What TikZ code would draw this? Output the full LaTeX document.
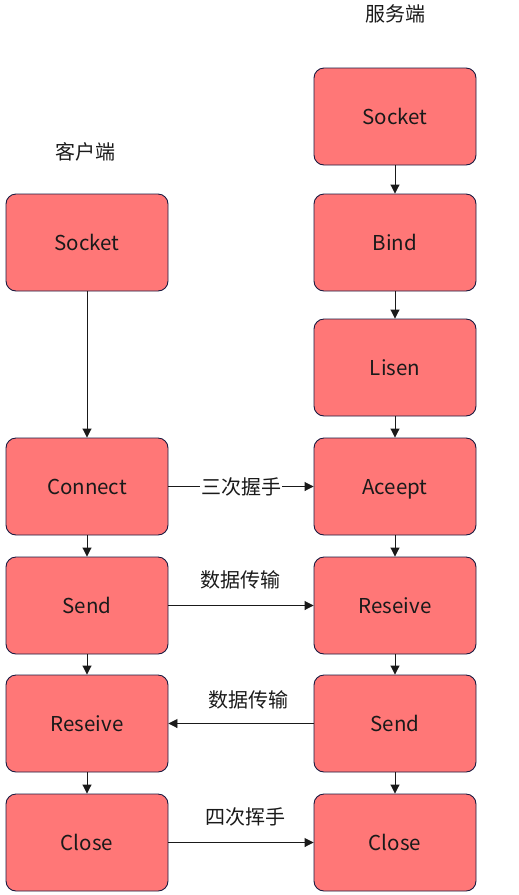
\documentclass[tikz,border=0pt]{standalone}
\usepackage{fontspec}
\setmainfont{Noto Sans CJK SC}
\usetikzlibrary{arrows.meta}
\definecolor{boxfill}{HTML}{FF7777}
\definecolor{boxline}{HTML}{1A1A40}
\definecolor{txt}{HTML}{1A1A1A}
\begin{document}
\begin{tikzpicture}[x=1pt,y=-1pt,
  sbox/.style={draw=boxline,fill=boxfill,rounded corners=10pt,line width=0.9pt,
    minimum width=162pt,minimum height=97pt,inner sep=0pt,text height=15pt,text depth=0pt,
    font=\fontsize{20.5pt}{24pt}\selectfont,text=txt},
  lbl/.style={font=\fontsize{20pt}{24pt}\selectfont,text=txt,inner sep=1pt},
  conn/.style={draw=txt,line width=0.9pt,-{Triangle[length=9pt,width=9pt]}}]
\useasboundingbox (0,0) rectangle (519,895);
% titles
\node[lbl] (tserver) at (395,14) {服务端};
\node[lbl] (tclient) at (86,152) {客户端};
% server column
\node[sbox] (sSocket) at (395,116.5) {Socket};
\node[sbox] (sBind) at (395,242.5) {Bind};
\node[sbox] (sLisen) at (395,367.5) {Lisen};
\node[sbox] (sAccept) at (395,486.5) {Aceept};
\node[sbox] (sRecv) at (395,605.5) {Reseive};
\node[sbox] (sSend) at (395,723.5) {Send};
\node[sbox] (sClose) at (395,842.5) {Close};
% client column
\node[sbox] (cSocket) at (87,242.5) {Socket};
\node[sbox] (cConnect) at (87,486.5) {Connect};
\node[sbox] (cSend) at (87,605.5) {Send};
\node[sbox] (cRecv) at (87,723.5) {Reseive};
\node[sbox] (cClose) at (87,842.5) {Close};
% vertical arrows
\draw[conn] (sSocket) -- (sBind);
\draw[conn] (sBind) -- (sLisen);
\draw[conn] (sLisen) -- (sAccept);
\draw[conn] (sAccept) -- (sRecv);
\draw[conn] (sRecv) -- (sSend);
\draw[conn] (sSend) -- (sClose);
\draw[conn] (cSocket) -- (cConnect);
\draw[conn] (cConnect) -- (cSend);
\draw[conn] (cSend) -- (cRecv);
\draw[conn] (cRecv) -- (cClose);
% horizontal arrows
\draw[conn] (cConnect) -- node[lbl,fill=white,inner sep=1pt] (l1) {三次握手} (sAccept);
\draw[conn] (cSend) -- (sRecv);
\node[lbl] (l2) at (240,580) {数据传输};
\draw[conn] (sSend) -- (cRecv);
\node[lbl] (l3) at (248,700) {数据传输};
\draw[conn] (cClose) -- (sClose);
\node[lbl] (l4) at (245,817) {四次挥手};
\end{tikzpicture}
\end{document}
